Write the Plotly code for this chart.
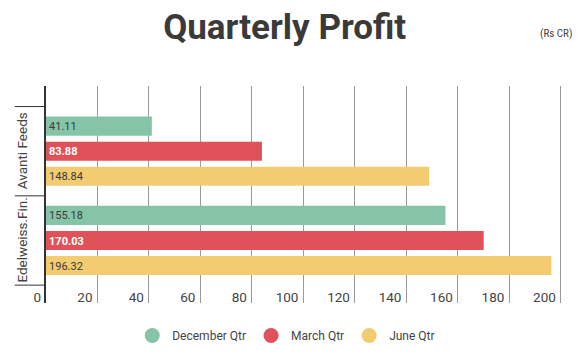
import plotly.graph_objects as go

companies = ["Avanti Feeds", "Edelweiss.Fin."]
series_names = ["December Qtr", "March Qtr", "June Qtr"]
december = [41.11, 155.18]
march = [83.88, 170.03]
june = [148.84, 196.32]
x_ticks = [0, 20, 40, 60, 80, 100, 120, 140, 160, 180, 200]

colors = ["#86C4A8", "#E0525A", "#F3CB71"]
text_colors = ["#3a3a3a", "#ffffff", "#3a3a3a"]
text_weights = ["normal", "bold", "normal"]

fig = go.Figure()
for name, vals, c, tc, tw in zip(series_names, [december, march, june], colors, text_colors, text_weights):
    fig.add_trace(go.Bar(
        y=companies, x=vals, orientation="h", name=name,
        marker=dict(color=c, line=dict(width=0)),
        text=[f"{v:.2f}" for v in vals], textposition="inside",
        insidetextanchor="start",
        textfont=dict(family="Roboto", size=13.5, color=tc, weight=tw),
        showlegend=False, hoverinfo="skip",
    ))
    fig.add_trace(go.Scatter(
        x=[None], y=[None], mode="markers", name=name,
        marker=dict(color=c, size=15, symbol="circle"),
    ))

annotations = [dict(text="(Rs CR)", xref="paper", yref="paper", x=1.015, y=1.24,
                    xanchor="right", yanchor="middle", showarrow=False,
                    font=dict(family="Roboto Condensed, Roboto", size=11, color="#444444"))]
for i, comp in enumerate(companies):
    annotations.append(dict(text=comp, xref="paper", yref="y", x=-0.046, y=i,
                            xanchor="center", yanchor="middle", textangle=-90, showarrow=False,
                            font=dict(family="Roboto", size=13.5, color="#444444")))
shapes = []
for b in [-0.5, 0.5, 1.5]:
    shapes.append(dict(type="line", xref="paper", yref="y", x0=-0.06, x1=0, y0=b, y1=b,
                       line=dict(color="#333333", width=1)))

fig.update_layout(
    width=573, height=348,
    margin=dict(l=38, r=15, t=78, b=53, autoexpand=False),
    paper_bgcolor="white", plot_bgcolor="white",
    barmode="group", bargap=0.157, bargroupgap=0.24,
    font=dict(family="Roboto", color="#444444"),
    title=dict(text="<b>Quarterly Profit</b>", x=0.459, xanchor="center", y=0.945, yanchor="middle",
               xref="paper", yref="container",
               font=dict(family="Roboto", size=35, color="#3a3a3a")),
    legend=dict(orientation="h", x=0.462, xanchor="center", y=-0.15, yanchor="middle",
                font=dict(family="Roboto", size=12, color="#444444"), itemwidth=30),
    annotations=annotations,
    shapes=shapes,
)
fig.update_xaxes(
    range=[0, 202], tickvals=x_ticks, showgrid=True, gridcolor="#9a9a9a", gridwidth=1,
    zeroline=False, showline=False, ticklabelposition="outside left", ticklabelstandoff=-16,
    ticklabelshift=-5,
    tickfont=dict(family="Roboto", size=13.5, color="#444444"), ticks="",
    automargin=False, fixedrange=True,
)
fig.update_yaxes(
    categoryorder="array", categoryarray=companies, range=[1.70, -0.73],
    showline=True, linecolor="#333333", linewidth=2, showgrid=False,
    ticks="", showticklabels=False, automargin=False,
)
fig.write_html("out.html")
